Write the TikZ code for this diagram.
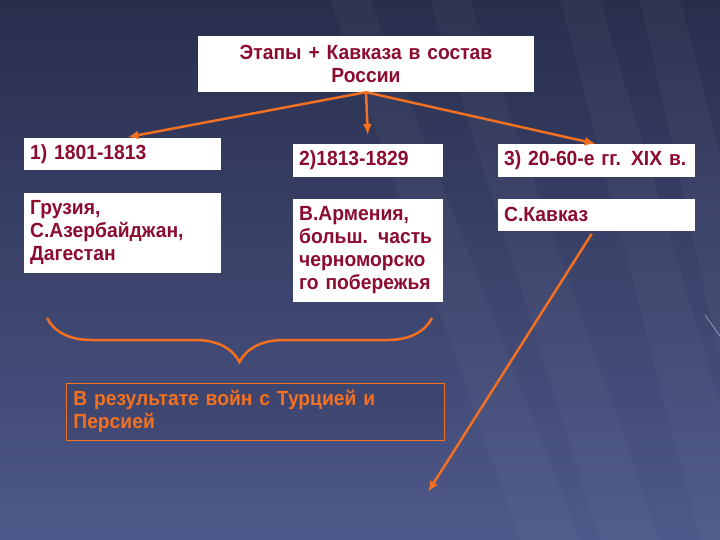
\documentclass[tikz,border=0pt]{standalone}
\usepackage{fontspec}
\setmainfont{Liberation Sans}
\newfontfamily\slidefont[FakeStretch=0.94,WordSpace=0.8]{Liberation Sans}
\usepackage{tikz}
\usetikzlibrary{arrows,arrows.meta,positioning,decorations.pathreplacing}

\definecolor{slidetop}{RGB}{40,46,76}
\definecolor{slidebot}{RGB}{78,88,138}
\definecolor{wine}{RGB}{140,12,48}
\definecolor{amber}{RGB}{242,112,32}

\begin{document}
\begin{tikzpicture}[x=1pt, y=-1pt, auto,
  stagebox/.style={fill=white, text=wine, font=\slidefont\bfseries\fontsize{20.5}{23}\selectfont,
    align=left, inner xsep=6pt, inner ysep=0pt},
  link/.style={draw=amber, line width=2.5pt, -{Latex[length=11pt,width=9pt]}}]

%background of the slide
\shade[top color=slidetop, bottom color=slidebot] (0,0) rectangle (720,540);
\useasboundingbox (0,0) rectangle (720,540);
\foreach \a/\b in {330/520, 430/600, 560/700, 640/760}
  \fill[white, opacity=0.03] (\a,0) -- (\a+40,0) -- (\b+60,540) -- (\b,540) -- cycle;
\draw[white, opacity=0.7] (705,315) -- (720,336);

%title box
\node[stagebox, align=center, text width=324pt, minimum height=56pt] (Title) at (366,64)
  {Этапы + Кавказа в состав\\России};

%stages
\node[stagebox, anchor=north west, text width=185pt, minimum height=32pt] (P1) at (24,138) {1) 1801-1813};
\node[stagebox, anchor=north west, text width=138pt, minimum height=33pt] (P2) at (293,144) {2)1813-1829};
\node[stagebox, anchor=north west, text width=185pt, minimum height=33pt] (P3) at (498,144) {3) 20-60-е гг. XIX в.};

%regions under each stage
\node[stagebox, text width=185pt, minimum height=80pt, below right=22pt and 0pt of P1.south west] (R1)
  {Грузия,\\С.Азербайджан,\\Дагестан};
\node[stagebox, text width=138pt, minimum height=103pt, below right=21pt and 0pt of P2.south west] (R2)
  {В.Армения,\\больш. часть\\черноморско\\го побережья};
\node[stagebox, text width=185pt, minimum height=32pt, below right=21pt and 0pt of P3.south west] (R3)
  {С.Кавказ};

%result of the wars
\node[draw=amber, line width=0.8pt, fill=black, fill opacity=0.08, text opacity=1, text=amber,
  font=\slidefont\bfseries\fontsize{20.5}{23}\selectfont, align=left, anchor=north west,
  text width=364pt, minimum height=57pt, inner xsep=7pt, inner ysep=0pt] (Result) at (66,383)
  {В результате войн с Турцией и\\Персией};

%brace over R1 and R2
\coordinate (BL) at (47,318);
\coordinate (BR) at (432,318);
\draw[amber, line width=2.5pt, decorate, decoration={brace, mirror, amplitude=44pt}] (BL) -- (BR);

%arrows
\draw[link, shorten >=5pt] (Title.south) -- (P1.north);
\draw[link, shorten >=9pt] (Title.south) -- (P2.north);
\draw[link, shorten >=1pt] (Title.south) -- (P3.north);
\coordinate (Free) at (428,492);
\draw[link] ([xshift=-5pt, yshift=-3pt]R3.south) -- (Free);

\end{tikzpicture}
\end{document}
